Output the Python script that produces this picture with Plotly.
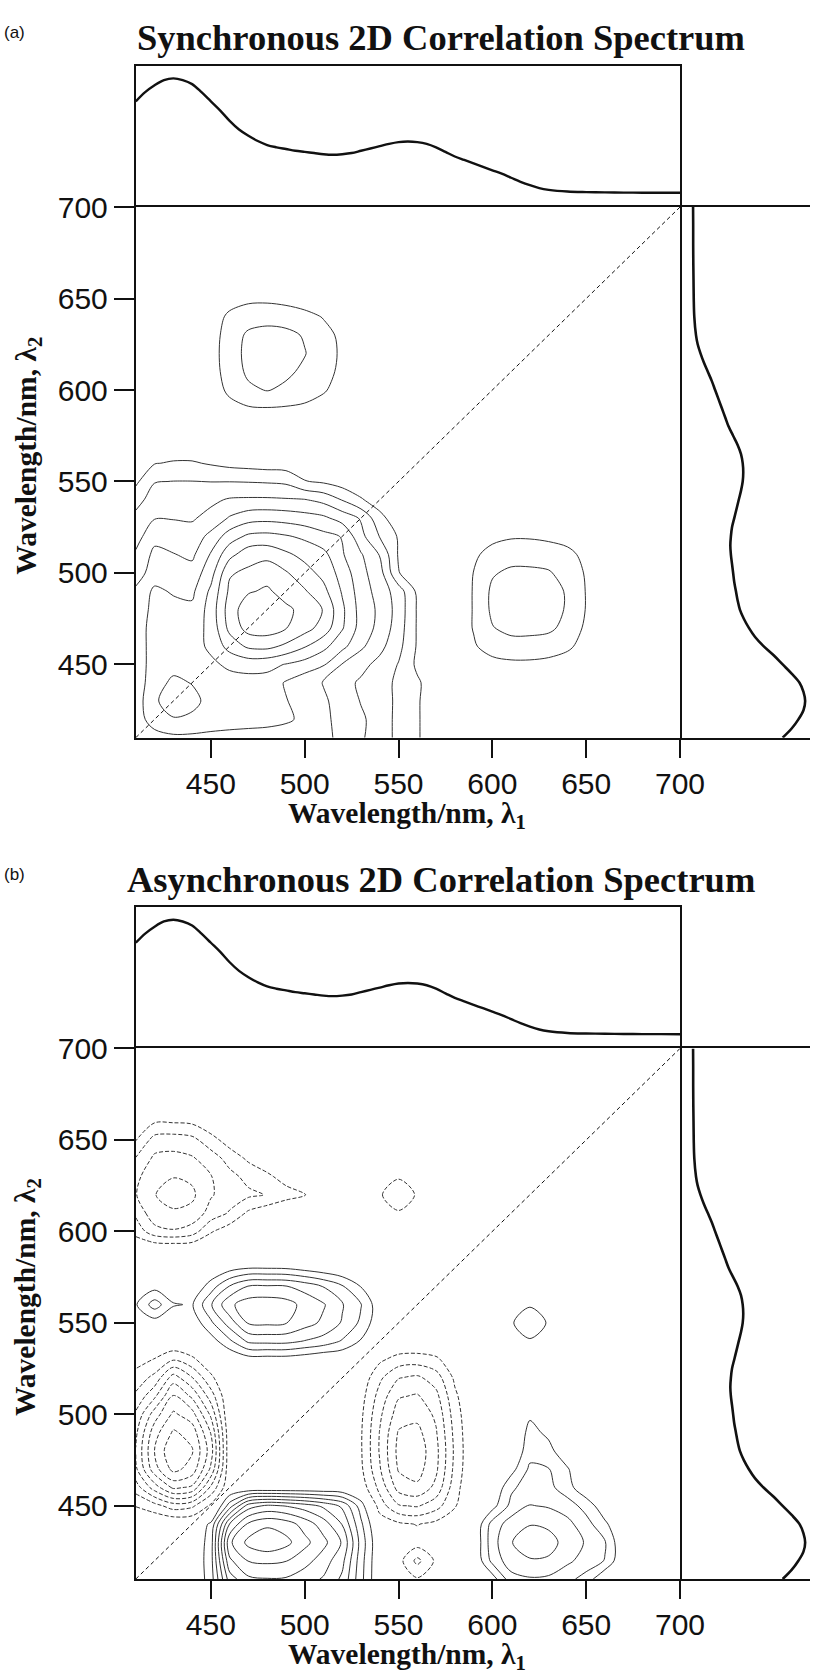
import plotly.graph_objects as go

W, H = 835, 1679

# ---------------- data ----------------
WL = [410, 420, 430, 440, 450, 460, 470, 480, 490, 500, 510, 520, 530, 540, 550,
      560, 570, 580, 590, 600, 610, 620, 630, 640, 650, 660, 670, 680, 690, 700]

TICKS = [450, 500, 550, 600, 650, 700]
DIAG = [410, 700]

SPEC_WL = [410, 415, 420, 425, 430, 435, 440, 445, 450, 455, 460, 465, 470, 475, 480,
           485, 490, 495, 500, 505, 510, 515, 520, 525, 530, 535, 540, 545, 550, 555,
           560, 565, 570, 575, 580, 585, 590, 595, 600, 605, 610, 615, 620, 625, 630,
           640, 650, 660, 670, 680, 690, 700]
SPEC_ABS = [0.80, 0.88, 0.94, 0.985, 1.00, 0.985, 0.95, 0.88, 0.80, 0.72, 0.63, 0.555, 0.50, 0.455, 0.42,
            0.40, 0.385, 0.37, 0.36, 0.35, 0.34, 0.335, 0.34, 0.35, 0.37, 0.39, 0.41, 0.43, 0.445, 0.45,
            0.445, 0.43, 0.40, 0.36, 0.32, 0.29, 0.26, 0.23, 0.20, 0.17, 0.135, 0.10, 0.07, 0.045, 0.03,
            0.015, 0.01, 0.008, 0.006, 0.005, 0.005, 0.004]

# synchronous map, rows = lambda2 (410..700), columns = lambda1 (410..700), contour-level units
SYNC_Z = [
    [4.4, 4.6, 4.8, 4.8, 4.75, 4.7, 4.65, 4.6, 4.5, 4.4, 4.2, 3.8, 3.1, 2.6, 1.7, 1.1, 0.4, 0, 0, 0, 0, 0, 0, 0, 0, 0, 0, 0, 0, 0],
    [4.5, 5.5, 5.9, 5.75, 5.5, 5.4, 5.35, 5.3, 5.15, 4.8, 4.2, 3.7, 3.15, 2.6, 1.7, 1.1, 0.4, 0, 0, 0, 0, 0, 0, 0, 0, 0, 0, 0, 0, 0],
    [4.5, 5.8, 6.7, 6.35, 5.6, 5.45, 5.4, 5.4, 5.05, 4.6, 4.15, 3.6, 2.95, 2.55, 1.75, 1.1, 0.4, 0, 0, 0, 0, 0, 0, 0, 0, 0, 0, 0, 0, 0],
    [4.5, 5.5, 6.25, 5.95, 5.6, 5.6, 5.6, 5.6, 4.9, 4.35, 3.95, 3.35, 2.85, 2.4, 1.8, 1.15, 0.4, 0, 0, 0, 0, 0, 0, 0, 0, 0, 0, 0, 0, 0],
    [4.5, 5.4, 5.6, 5.6, 5.8, 6.2, 6.4, 6.3, 5.95, 5.6, 5.1, 3.95, 3.3, 2.7, 1.95, 0.8, 0.1, 0, 0.4, 0.7, 0.8, 0.8, 0.7, 0.5, 0, 0, 0, 0, 0, 0],
    [4.5, 5.4, 5.5, 5.6, 6.2, 7.4, 8.2, 8.3, 7.8, 7.1, 6.3, 5.3, 4.2, 3.3, 2.3, 0.9, 0.1, 0.3, 0.9, 1.4, 1.6, 1.6, 1.5, 1.2, 0.6, 0, 0, 0, 0, 0],
    [4.5, 5.4, 5.4, 5.5, 6.3, 8.3, 9.4, 9.5, 9.05, 8.4, 7.6, 6.1, 4.6, 3.7, 2.5, 0.9, 0.1, 0.4, 1.05, 1.95, 2.3, 2.3, 2.2, 1.7, 0.8, 0.2, 0, 0, 0, 0],
    [4.4, 5.3, 5.3, 5.2, 6.4, 8.5, 9.6, 9.8, 9.2, 8.7, 7.95, 6.2, 4.6, 3.8, 2.6, 0.9, 0.1, 0.4, 1.05, 2.2, 2.6, 2.6, 2.4, 1.9, 0.95, 0.3, 0, 0, 0, 0],
    [4.2, 5.2, 4.9, 4.8, 6.2, 8.2, 8.9, 9.15, 8.6, 8.1, 7.3, 5.9, 4.5, 3.6, 2.5, 0.8, 0.1, 0.4, 1.05, 2.2, 2.5, 2.6, 2.4, 1.9, 0.95, 0.3, 0, 0, 0, 0],
    [3.5, 4.5, 4.5, 4.4, 5.6, 7.9, 8.2, 8.6, 8.1, 7.4, 6.7, 5.6, 4.3, 3.4, 1.05, 0.3, 0, 0.3, 1.02, 1.9, 2.2, 2.2, 2.1, 1.6, 0.9, 0.2, 0, 0, 0, 0],
    [3.15, 4.25, 4.05, 3.8, 5.1, 6.7, 7.6, 7.7, 7.2, 6.7, 6.3, 5.1, 4.1, 2.95, 0.9, 0.2, 0, 0.1, 0.8, 1.4, 1.6, 1.6, 1.5, 1.3, 0.7, 0, 0, 0, 0, 0],
    [2.6, 3.7, 3.5, 3.4, 4.3, 5.5, 6.2, 6.3, 6.1, 5.8, 5.3, 4.95, 3.3, 1.95, 0.9, 0.2, 0, 0, 0.3, 0.7, 0.9, 0.9, 0.8, 0.6, 0.2, 0, 0, 0, 0, 0],
    [2.3, 2.95, 2.95, 2.9, 3.3, 4.1, 4.6, 4.7, 4.6, 4.4, 4.2, 3.6, 2.9, 1.3, 0.4, 0, 0, 0, 0, 0, 0, 0, 0, 0, 0, 0, 0, 0, 0, 0],
    [1.6, 2.5, 2.5, 2.45, 2.8, 3.1, 3.15, 3.15, 3.1, 3.05, 2.7, 1.95, 1.1, 0.5, 0.1, 0, 0, 0, 0, 0, 0, 0, 0, 0, 0, 0, 0, 0, 0, 0],
    [0.8, 1.95, 2.02, 2.02, 1.98, 1.98, 1.95, 1.9, 1.8, 1.05, 0.85, 0.5, 0.3, 0.1, 0, 0, 0, 0, 0, 0, 0, 0, 0, 0, 0, 0, 0, 0, 0, 0],
    [0.2, 0.95, 1.1, 1.1, 0.9, 0.7, 0.6, 0.5, 0.45, 0.4, 0.3, 0.2, 0.1, 0, 0, 0, 0, 0, 0, 0, 0, 0, 0, 0, 0, 0, 0, 0, 0, 0],
    [0, 0.3, 0.3, 0.3, 0.1, 0, 0, 0, 0, 0, 0, 0, 0, 0, 0, 0, 0, 0, 0, 0, 0, 0, 0, 0, 0, 0, 0, 0, 0, 0],
    [0, 0, 0, 0, 0, 0, 0, 0, 0, 0, 0, 0, 0, 0, 0, 0, 0, 0, 0, 0, 0, 0, 0, 0, 0, 0, 0, 0, 0, 0],
    [0, 0, 0, 0, 0.2, 0.7, 0.9, 0.95, 0.9, 0.8, 0.6, 0.2, 0, 0, 0, 0, 0, 0, 0, 0, 0, 0, 0, 0, 0, 0, 0, 0, 0, 0],
    [0, 0, 0, 0, 0.5, 1.2, 1.8, 2.05, 1.8, 1.5, 1.1, 0.6, 0, 0, 0, 0, 0, 0, 0, 0, 0, 0, 0, 0, 0, 0, 0, 0, 0, 0],
    [0, 0, 0, 0, 0.6, 1.4, 2.2, 2.4, 2.2, 1.8, 1.3, 0.8, 0, 0, 0, 0, 0, 0, 0, 0, 0, 0, 0, 0, 0, 0, 0, 0, 0, 0],
    [0, 0, 0, 0, 0.6, 1.5, 2.3, 2.6, 2.4, 2.05, 1.4, 0.85, 0, 0, 0, 0, 0, 0, 0, 0, 0, 0, 0, 0, 0, 0, 0, 0, 0, 0],
    [0, 0, 0, 0, 0.6, 1.4, 2.2, 2.4, 2.3, 1.9, 1.3, 0.8, 0, 0, 0, 0, 0, 0, 0, 0, 0, 0, 0, 0, 0, 0, 0, 0, 0, 0],
    [0, 0, 0, 0, 0.5, 1.2, 1.5, 1.6, 1.5, 1.3, 0.95, 0.6, 0, 0, 0, 0, 0, 0, 0, 0, 0, 0, 0, 0, 0, 0, 0, 0, 0, 0],
    [0, 0, 0, 0, 0.2, 0.6, 0.8, 0.8, 0.7, 0.5, 0.2, 0, 0, 0, 0, 0, 0, 0, 0, 0, 0, 0, 0, 0, 0, 0, 0, 0, 0, 0],
    [0, 0, 0, 0, 0, 0, 0, 0, 0, 0, 0, 0, 0, 0, 0, 0, 0, 0, 0, 0, 0, 0, 0, 0, 0, 0, 0, 0, 0, 0],
    [0, 0, 0, 0, 0, 0, 0, 0, 0, 0, 0, 0, 0, 0, 0, 0, 0, 0, 0, 0, 0, 0, 0, 0, 0, 0, 0, 0, 0, 0],
    [0, 0, 0, 0, 0, 0, 0, 0, 0, 0, 0, 0, 0, 0, 0, 0, 0, 0, 0, 0, 0, 0, 0, 0, 0, 0, 0, 0, 0, 0],
    [0, 0, 0, 0, 0, 0, 0, 0, 0, 0, 0, 0, 0, 0, 0, 0, 0, 0, 0, 0, 0, 0, 0, 0, 0, 0, 0, 0, 0, 0],
    [0, 0, 0, 0, 0, 0, 0, 0, 0, 0, 0, 0, 0, 0, 0, 0, 0, 0, 0, 0, 0, 0, 0, 0, 0, 0, 0, 0, 0, 0],
]

# asynchronous map (positive = solid, negative = dashed)
ASYNC_Z = [
    [0, 0, 0, 0, 1.5, 5.5, 6.8, 6.95, 6.9, 6.4, 5.9, 4.8, 2.3, 0, -0.3, -0.9, -0.3, 0, 0, 0.5, 2.6, 2.9, 2.8, 2.3, 1.6, 0, 0, 0, 0, 0],
    [0, 0, 0, 0, 1.6, 6.8, 8.05, 8.2, 8.05, 7.4, 6.5, 5.3, 2.4, 0, -0.6, -2.3, -0.8, 0, 0, 2.3, 3.6, 3.9, 3.85, 3.2, 2.6, 1.95, 0, 0, 0, 0],
    [0, 0, 0, 0, 1.5, 7.8, 9.3, 9.8, 9.3, 8.3, 7.3, 5.9, 2.6, 0, -0.2, -0.5, -0.3, 0, 0, 2.6, 3.95, 4.6, 4.4, 3.6, 2.9, 2.1, 0, 0, 0, 0],
    [0, 0, 0, 0, 1.2, 6.05, 8.2, 8.8, 8.5, 7.6, 6.5, 4.95, 2.2, -0.3, -0.8, -1.05, -0.7, -0.2, 0, 2.4, 3.5, 3.95, 3.8, 3.3, 2.4, 1.2, 0, 0, 0, 0],
    [-1.05, -1.6, -2.5, -2.2, -0.8, 2.5, 5.5, 6.2, 5.95, 5.5, 4.8, 3.8, 1.5, -1.5, -2.9, -3.1, -2.4, -1.1, 0, 0.6, 2.3, 3.05, 2.9, 2.5, 1.6, 0.3, 0, 0, 0, 0],
    [-2.5, -4.5, -6.2, -5.8, -2.8, -0.1, 0, 0, 0, 0, 0, 0, -0.4, -2.3, -4.4, -4.8, -3.7, -1.4, 0, 0, 1.8, 2.5, 2.3, 1.4, 0.2, 0, 0, 0, 0, 0],
    [-3.8, -6.6, -8.3, -7.6, -4.8, -0.2, 0, 0, 0, 0, 0, 0, -0.8, -2.9, -5.1, -5.4, -4.2, -1.7, 0, 0, 0.6, 2.2, 2.05, 1.1, 0, 0, 0, 0, 0, 0],
    [-4.05, -7.05, -8.9, -8.1, -5.5, -0.2, 0, 0, 0, 0, 0, 0, -0.9, -3.1, -5.3, -5.6, -4.3, -1.8, 0, 0, 0, 1.6, 1.3, 0.3, 0, 0, 0, 0, 0, 0],
    [-3.8, -6.6, -8.15, -7.6, -4.95, -0.2, 0, 0, 0, 0, 0, 0, -0.9, -3.05, -5.1, -5.3, -4.1, -1.7, 0, 0, 0, 1.3, 0.8, 0, 0, 0, 0, 0, 0, 0],
    [-3.2, -5.5, -7.2, -6.4, -3.8, 0, 0, 0, 0, 0, 0, 0, -0.8, -2.8, -4.5, -4.7, -3.8, -1.5, 0, 0, 0, 0.85, 0.5, 0, 0, 0, 0, 0, 0, 0],
    [-2.2, -3.8, -6.05, -4.8, -2.5, 0, 0, 0, 0, 0, 0, 0, -0.6, -2.4, -3.9, -4.1, -3.3, -1.2, 0, 0, 0, 0, 0, 0, 0, 0, 0, 0, 0, 0],
    [-1.4, -2.3, -4.5, -3.05, -1.2, 0, 0, 0, 0, 0, 0, 0, -0.3, -1.8, -2.95, -3.2, -2.5, -0.8, 0, 0, 0, 0, 0, 0, 0, 0, 0, 0, 0, 0],
    [-0.6, -1.05, -1.9, -1.2, -0.3, 0, 0.5, 0.5, 0.5, 0.3, 0, 0, 0, -0.8, -1.4, -1.5, -1.2, -0.3, 0, 0, 0, 0, 0, 0, 0, 0, 0, 0, 0, 0],
    [0, 0, 0, 0, 0.5, 1.8, 3.2, 3.3, 3.3, 2.95, 2.6, 1.9, 0.9, 0, 0, 0, 0, 0, 0, 0, 0.5, 0.85, 0.5, 0, 0, 0, 0, 0, 0, 0],
    [0.3, 0.5, 0.1, 0.3, 1.8, 3.5, 5.1, 5.2, 5.05, 4.4, 3.8, 2.9, 1.8, 0.2, 0, 0, 0, 0, 0, 0, 0.85, 1.9, 0.85, 0, 0, 0, 0, 0, 0, 0],
    [0.9, 2.5, 1.1, 0.9, 2.9, 4.8, 5.5, 5.6, 5.4, 4.7, 4.1, 3.1, 2.05, 0.3, 0, 0, 0, 0, 0, 0, 0.5, 0.85, 0.5, 0, 0, 0, 0, 0, 0, 0],
    [0.3, 0.6, 0.1, 0, 1.5, 3.05, 4.05, 4.1, 4.05, 3.6, 2.95, 2.1, 0.95, 0, 0, 0, 0, 0, 0, 0, 0, 0, 0, 0, 0, 0, 0, 0, 0, 0],
    [0, 0, 0, 0, 0, 0.6, 0.95, 0.95, 0.9, 0.6, 0.3, 0, 0, 0, 0, 0, 0, 0, 0, 0, 0, 0, 0, 0, 0, 0, 0, 0, 0, 0],
    [0, 0, 0, 0, 0, 0, 0, 0, 0, 0, 0, 0, 0, 0, 0, 0, 0, 0, 0, 0, 0, 0, 0, 0, 0, 0, 0, 0, 0, 0],
    [-1.4, -2.6, -2.9, -2.5, -1.1, -0.4, 0, 0, 0, 0, 0, 0, 0, 0, 0, 0, 0, 0, 0, 0, 0, 0, 0, 0, 0, 0, 0, 0, 0, 0],
    [-2.2, -3.7, -3.8, -3.7, -2.6, -1.9, -0.8, -0.3, 0, 0, 0, 0, 0, -0.5, -0.85, -0.5, 0, 0, 0, 0, 0, 0, 0, 0, 0, 0, 0, 0, 0, 0],
    [-2.95, -3.95, -4.6, -4.2, -3.1, -2.5, -2.2, -1.95, -1.4, -1.05, 0, 0, 0, -0.85, -1.9, -0.85, 0, 0, 0, 0, 0, 0, 0, 0, 0, 0, 0, 0, 0, 0],
    [-2.7, -3.8, -3.95, -3.8, -3.05, -2.3, -1.7, -1.2, -0.6, 0, 0, 0, 0, -0.5, -0.85, -0.5, 0, 0, 0, 0, 0, 0, 0, 0, 0, 0, 0, 0, 0, 0],
    [-2.05, -3.2, -3.3, -3.1, -2.5, -1.6, -0.8, -0.3, 0, 0, 0, 0, 0, 0, 0, 0, 0, 0, 0, 0, 0, 0, 0, 0, 0, 0, 0, 0, 0, 0],
    [-0.95, -2.4, -2.5, -2.3, -1.4, -0.5, 0, 0, 0, 0, 0, 0, 0, 0, 0, 0, 0, 0, 0, 0, 0, 0, 0, 0, 0, 0, 0, 0, 0, 0],
    [-0.3, -0.9, -0.9, -0.8, -0.2, 0, 0, 0, 0, 0, 0, 0, 0, 0, 0, 0, 0, 0, 0, 0, 0, 0, 0, 0, 0, 0, 0, 0, 0, 0],
    [0, 0, 0, 0, 0, 0, 0, 0, 0, 0, 0, 0, 0, 0, 0, 0, 0, 0, 0, 0, 0, 0, 0, 0, 0, 0, 0, 0, 0, 0],
    [0, 0, 0, 0, 0, 0, 0, 0, 0, 0, 0, 0, 0, 0, 0, 0, 0, 0, 0, 0, 0, 0, 0, 0, 0, 0, 0, 0, 0, 0],
    [0, 0, 0, 0, 0, 0, 0, 0, 0, 0, 0, 0, 0, 0, 0, 0, 0, 0, 0, 0, 0, 0, 0, 0, 0, 0, 0, 0, 0, 0],
    [0, 0, 0, 0, 0, 0, 0, 0, 0, 0, 0, 0, 0, 0, 0, 0, 0, 0, 0, 0, 0, 0, 0, 0, 0, 0, 0, 0, 0, 0],
]

TITLES = ["Synchronous 2D Correlation Spectrum", "Asynchronous 2D Correlation Spectrum"]
LABELS = ["(a)", "(b)"]
X_TITLE = "Wavelength/nm, λ<sub>1</sub>"
Y_TITLE = "Wavelength/nm, λ<sub>2</sub>"

# ---------------- styling / layout ----------------
INK = "#111111"
CINK = "#333333"
SANS = "Liberation Sans, Arial, sans-serif"
SERIF = "Liberation Serif, Times New Roman, serif"


def dx(a, b):
    return [a / W, b / W]


def dy(top, bottom):
    return [1 - bottom / H, 1 - top / H]


fig = go.Figure()
layout = {}
annotations = []
NOAX = dict(showticklabels=False, ticks="", showgrid=False, zeroline=False,
            linecolor=INK, linewidth=2)

for i, (zdata, title, label) in enumerate(zip([SYNC_Z, ASYNC_Z], TITLES, LABELS)):
    off = 850 * i
    n = 3 * i
    ids = [str(n + 1) if n else "", str(n + 2), str(n + 3)]
    xm, ym = "x" + ids[0], "y" + ids[0]
    xt, yt = "x" + ids[1], "y" + ids[1]
    xr, yr = "x" + ids[2], "y" + ids[2]

    main_dom_y = dy(192 + off, 728 + off)
    top_dom_y = dy(49 + off, 192 + off)

    layout["xaxis" + ids[0]] = dict(
        domain=dx(140, 701), range=[410, 700], anchor=ym, tickvals=TICKS,
        ticks="outside", ticklen=18, tickwidth=1.5, tickcolor=INK,
        showline=True, linecolor=INK, linewidth=2, mirror=True,
        showgrid=False, zeroline=False,
        tickfont=dict(family=SANS, size=30, color=INK))
    layout["yaxis" + ids[0]] = dict(
        domain=main_dom_y, range=[410, 700], anchor=xm, tickvals=TICKS,
        ticks="outside", ticklen=20, tickwidth=1.5, tickcolor=INK,
        showline=True, linecolor=INK, linewidth=2, mirror=True,
        showgrid=False, zeroline=False,
        tickfont=dict(family=SANS, size=30, color=INK))
    # top spectrum box: only the top edge from its x axis, sides from its y axis
    layout["xaxis" + ids[1]] = dict(domain=dx(140, 701), range=[410, 700], anchor=yt,
                                    side="top", showline=True, mirror=False, **NOAX)
    layout["yaxis" + ids[1]] = dict(domain=top_dom_y, range=[-0.12, 1.112], anchor=xt,
                                    showline=True, mirror=True, **NOAX)
    # right spectrum: horizontal lines continue the main frame
    layout["xaxis" + ids[2]] = dict(domain=dx(701, 835), range=[-0.112, 1.043], anchor=yr,
                                    showline=True, mirror=True, **NOAX)
    layout["yaxis" + ids[2]] = dict(domain=main_dom_y, range=[410, 700], anchor=xr,
                                    showline=False, **NOAX)

    # positive (solid) contours
    fig.add_trace(go.Contour(
        x=WL, y=WL, z=zdata, xaxis=xm, yaxis=ym,
        autocontour=False, contours=dict(start=1, end=9, size=1, coloring="lines"),
        colorscale=[[0, CINK], [1, CINK]], showscale=False,
        line=dict(width=1, smoothing=0.9), hoverinfo="skip"))
    if i == 1:
        fig.add_trace(go.Contour(
            x=WL, y=WL, z=zdata, xaxis=xm, yaxis=ym,
            autocontour=False, contours=dict(start=-9, end=-1, size=1, coloring="lines"),
            colorscale=[[0, CINK], [1, CINK]], showscale=False,
            line=dict(width=1, smoothing=0.9, dash="4px,2px"), hoverinfo="skip"))

    # diagonal
    fig.add_trace(go.Scatter(
        x=DIAG, y=DIAG, xaxis=xm, yaxis=ym, mode="lines",
        line=dict(color=INK, width=1, dash="4px,3px"), hoverinfo="skip"))

    # 1D spectra
    fig.add_trace(go.Scatter(
        x=SPEC_WL, y=SPEC_ABS, xaxis=xt, yaxis=yt, mode="lines",
        line=dict(color=INK, width=2.4, shape="spline"), hoverinfo="skip"))
    fig.add_trace(go.Scatter(
        x=SPEC_ABS, y=SPEC_WL, xaxis=xr, yaxis=yr, mode="lines",
        line=dict(color=INK, width=2.6, shape="spline"), hoverinfo="skip"))

    annotations += [
        dict(text="<b>" + title + "</b>", x=455 / W, y=1 - (21 + off) / H,
             xref="paper", yref="paper", showarrow=False, xanchor="center", yanchor="middle",
             font=dict(family=SERIF, size=36.5, color=INK)),
        dict(text=label, x=2 / W, y=1 - (16 + off) / H,
             xref="paper", yref="paper", showarrow=False, xanchor="left", yanchor="middle",
             font=dict(family=SANS, size=17, color=INK)),
        dict(text="<b>" + X_TITLE + "</b>", x=420 / W, y=1 - (806 + off) / H,
             xref="paper", yref="paper", showarrow=False, xanchor="center", yanchor="middle",
             font=dict(family=SERIF, size=29.5, color=INK)),
        dict(text="<b>" + Y_TITLE + "</b>", x=28 / W, y=1 - (443 + off) / H,
             xref="paper", yref="paper", showarrow=False, xanchor="center", yanchor="middle",
             textangle=-90, font=dict(family=SERIF, size=29.5, color=INK)),
    ]

fig.update_layout(
    width=W, height=H, margin=dict(l=0, r=0, t=0, b=0),
    paper_bgcolor="white", plot_bgcolor="white", showlegend=False,
    annotations=annotations, **layout)

fig.write_html(
    "out.html",
    post_script="document.body.style.margin='0px';document.body.style.padding='0px';"
                "document.documentElement.style.overflow='hidden';")
